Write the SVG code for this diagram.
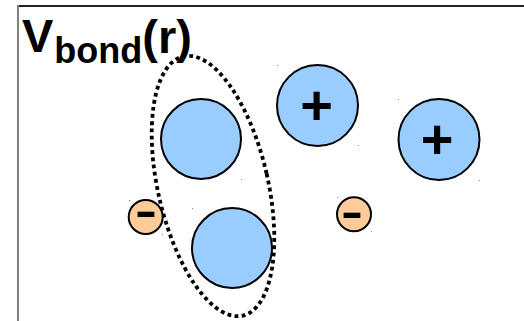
<svg xmlns="http://www.w3.org/2000/svg" width="524" height="321" viewBox="0 0 524 321">
  <style>
    .atom { fill: #99CCFF; stroke: #000; stroke-width: 2; }
    .ion { fill: #FFCC99; stroke: #000; stroke-width: 2; }
    .sign { font-family: "Liberation Sans", Arial, sans-serif; font-weight: bold; fill: #000; text-anchor: middle; }
    .title { font-family: "Liberation Sans", Arial, sans-serif; font-weight: bold; fill: #000; }
    .speck { fill: #888; }
  </style>
  <rect x="0" y="0" width="524" height="321" fill="#fff"/>
  <g id="frame">
    <line x1="18" y1="6" x2="524" y2="6" stroke="#222" stroke-width="2"/>
    <line x1="18" y1="5" x2="18" y2="321" stroke="#808080" stroke-width="2"/>
  </g>
  <g id="title">
    <text class="title" x="22" y="52" font-size="47">V<tspan font-size="36" dx="1" y="63">bond</tspan><tspan font-size="47" y="53">(r)</tspan></text>
  </g>
  <g id="atom-a"><circle class="atom" cx="201" cy="139" r="40"/></g>
  <g id="atom-b"><circle class="atom" cx="232" cy="248" r="40"/></g>
  <g id="cation-1"><circle class="atom" cx="317.5" cy="105.5" r="40.5"/><text class="sign" x="316.5" y="123.5" font-size="56">+</text></g>
  <g id="cation-2"><circle class="atom" cx="439" cy="139.5" r="40.5"/><text class="sign" x="437" y="158" font-size="56">+</text></g>
  <g id="anion-1"><circle class="ion" cx="145.7" cy="217" r="17"/><text class="sign" x="146" y="225.5" font-size="44" textLength="22" lengthAdjust="spacingAndGlyphs">-</text></g>
  <g id="anion-2"><circle class="ion" cx="354" cy="214.2" r="17"/><text class="sign" x="352" y="227" font-size="44" textLength="22" lengthAdjust="spacingAndGlyphs">-</text></g>
  <g id="connectors">
    <ellipse id="bond-outline" cx="213" cy="186" rx="55" ry="133" transform="rotate(-12.9 213 186)" fill="none" stroke="#000" stroke-width="3.8" stroke-dasharray="3.8 3.4"/>
  </g>
  <g id="specks">
    <rect class="speck" x="277" y="65" width="1" height="1"/>
    <rect class="speck" x="358" y="145" width="1" height="1"/>
    <rect class="speck" x="398" y="99" width="1" height="1"/>
    <rect class="speck" x="479" y="180" width="1" height="1"/>
    <rect class="speck" x="337" y="197" width="1" height="1"/>
    <rect class="speck" x="371" y="231" width="1" height="1"/>
    <rect class="speck" x="129" y="200" width="1" height="1"/>
    <rect class="speck" x="162" y="234" width="1" height="1"/>
    <rect class="speck" x="241" y="179" width="1" height="1"/>
    <rect class="speck" x="192" y="208" width="1" height="1"/>
  </g>
</svg>
